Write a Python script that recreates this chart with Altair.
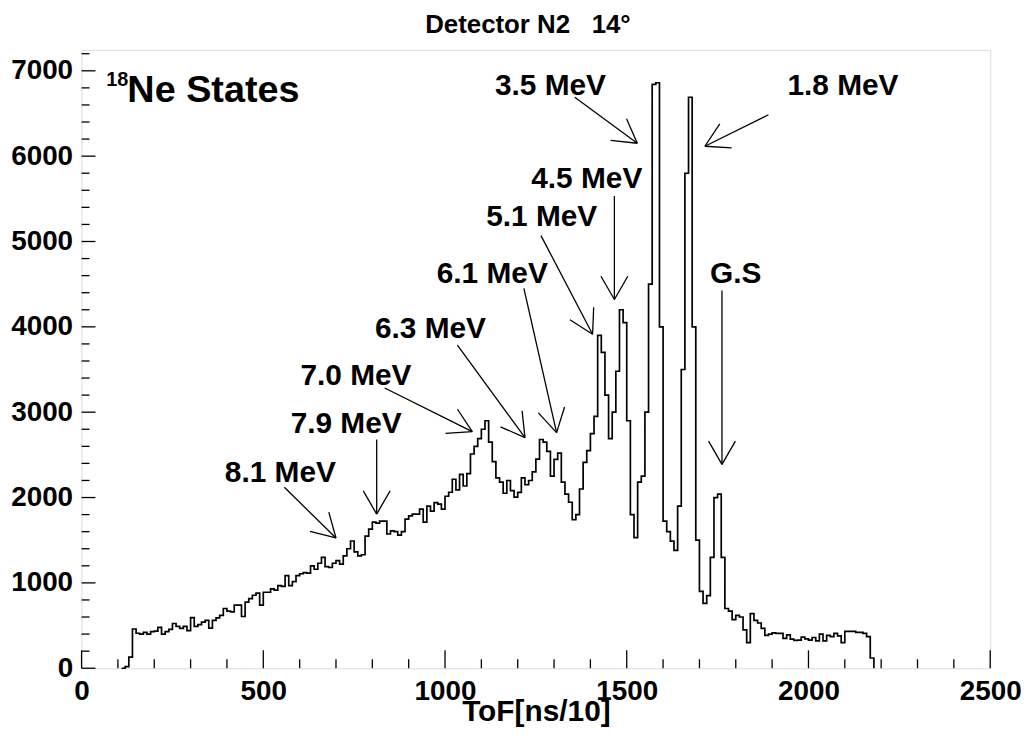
import math
import altair as alt
import pandas as pd

# ---------------- data ----------------
BIN_START = 110
BIN_WIDTH = 10
counts = [
    0, 20, 130, 460, 410, 400, 420, 400, 430,                 # 110-190
    435, 478, 400, 430, 455, 524, 490, 466, 490, 440,         # 200-290
    594, 490, 510, 540, 560, 470, 560, 590, 620, 700,         # 300-390
    670, 660, 740, 740, 606, 775, 816, 855, 880, 740,         # 400-490
    890, 890, 930, 915, 967, 960, 1084, 967, 1014, 1084,      # 500-590
    1107, 1120, 1115, 1200, 1160, 1230, 1300, 1190, 1180, 1230,  # 600-690
    1260, 1220, 1316, 1400, 1491, 1363, 1316, 1330, 1549, 1631,  # 700-790
    1712, 1700, 1724, 1724, 1573, 1610, 1600, 1560, 1600, 1747,  # 800-890
    1785, 1806, 1806, 1864, 1712, 1899, 1840, 1940, 1922, 1864,  # 900-990
    2015, 2062, 2214, 2090, 2272, 2135, 2280, 2510, 2600, 2690,  # 1000-1090
    2800, 2900, 2650, 2420, 2230, 2180, 2050, 2200, 2080, 2004,  # 1100-1190
    2060, 2230, 2150, 2200, 2300, 2450, 2680, 2650, 2540, 2250,  # 1200-1290
    2447, 2520, 2180, 2040, 1945, 1740, 1800, 2100, 2412, 2550,  # 1300-1390
    2750, 2950, 3900, 3700, 3200, 2690, 3000, 3480, 4200, 4050,  # 1400-1490
    2900, 1800, 1530, 2180, 2250, 3000, 4500, 6840, 6860, 4000,  # 1500-1590
    1724, 1600, 1490, 1380, 1900, 3500, 5800, 6690, 4000, 1500,  # 1600-1690
    900, 760, 850, 1300, 2000, 2040, 1300, 700, 670, 570,        # 1700-1790
    620, 600, 450, 300, 640, 560, 530, 466, 384, 400,            # 1800-1890
    415, 408, 408, 350, 390, 340, 326, 330, 365, 345,            # 1900-1990
    330, 360, 320, 400, 320, 385, 370, 408, 380, 300,            # 2000-2090
    431, 431, 431, 420, 420, 408, 370, 120,                      # 2100-2170
]
HIST_END = BIN_START + BIN_WIDTH * len(counts)

x_major = [0, 500, 1000, 1500, 2000, 2500]
x_minor = [v for v in range(100, 2500, 100) if v % 500 != 0]
y_major = [0, 1000, 2000, 3000, 4000, 5000, 6000, 7000]
y_minor = [v for v in range(200, 7400, 200) if v % 1000 != 0]

ann_text = ["3.5 MeV", "1.8 MeV", "4.5 MeV", "5.1 MeV", "6.1 MeV",
            "6.3 MeV", "7.0 MeV", "7.9 MeV", "8.1 MeV", "G.S"]
ann_text_x = [1290, 2095, 1390, 1266, 1130, 960, 755, 728, 547, 1800]
ann_text_y = [6721, 6721, 5626, 5183, 4508, 3867, 3320, 2761, 2178, 4508]
# arrows: start -> tip (data units)
arr_x0 = [1357, 1890, 1466, 1264, 1217, 1034, 834, 812, 558, 1762]
arr_y0 = [6690, 6485, 5533, 5069, 4450, 3785, 3284, 2679, 2120, 4426]
arr_x1 = [1529, 1715, 1466, 1406, 1307, 1220, 1075, 812, 700, 1762]
arr_y1 = [6151, 6116, 4321, 3914, 2761, 2702, 2772, 1806, 1526, 2388]

title_text = "Detector N2\u00a0\u00a0\u00a014\u00b0"

# ---------------- geometry ----------------
W, H = 914, 622
XMAX, YMAX = 2500, 7245
FONT = "Liberation Sans"

xs = alt.Scale(domain=[0, XMAX], nice=False, zero=False)
ys = alt.Scale(domain=[0, YMAX], nice=False, zero=False)

x_axis = alt.Axis(
    values=x_major, format="d", title="ToF[ns/10]", ticks=False, domain=False,
    grid=False, labelFont=FONT, labelFontWeight="bold", labelFontSize=28,
    labelColor="black", labelPadding=9, labelFlush=False, labelOverlap=False,
    titleFont=FONT, titleFontWeight="bold", titleFontSize=30, titleColor="black",
    titleY=53, titleBaseline="alphabetic")
y_axis = alt.Axis(
    values=y_major, format="d", title=None, ticks=False, domain=False, grid=False,
    labelFont=FONT, labelFontWeight="bold", labelFontSize=28, labelColor="black",
    labelPadding=9, labelFlush=False, labelOverlap=False)

edges = [BIN_START + i * BIN_WIDTH for i in range(len(counts))]
hist_df = pd.DataFrame({"tof": edges + [HIST_END], "counts": counts + [0]})

hist = alt.Chart(hist_df).mark_line(
    interpolate="step-after", color="black", strokeWidth=1.7
).encode(
    x=alt.X("tof:Q", scale=xs, axis=x_axis),
    y=alt.Y("counts:Q", scale=ys, axis=y_axis),
)

def tick_layer(vals, axis, length):
    df = pd.DataFrame({"t": vals})
    base = alt.Chart(df).mark_rule(color="black", strokeWidth=1.3)
    if axis == "x":
        return base.encode(x=alt.X("t:Q", scale=xs, axis=x_axis),
                           y=alt.value(H), y2=alt.value(H - length))
    return base.encode(y=alt.Y("t:Q", scale=ys, axis=y_axis),
                       x=alt.value(0), x2=alt.value(length))

ticks = [tick_layer(x_major, "x", 18), tick_layer(x_minor, "x", 9),
         tick_layer(y_major, "y", 14), tick_layer(y_minor, "y", 8)]

# arrows (shaft + open head), heads computed in pixel space
segs = []
HEAD_LEN, HEAD_ANG = 27.0, math.radians(30)
for a, b, c, d in zip(arr_x0, arr_y0, arr_x1, arr_y1):
    segs.append({"x": a, "y": b, "x2": c, "y2": d})
    px0, py0 = a * W / XMAX, b * H / YMAX
    px1, py1 = c * W / XMAX, d * H / YMAX
    ang = math.atan2(py0 - py1, px0 - px1)
    for s in (-1, 1):
        hx = px1 + HEAD_LEN * math.cos(ang + s * HEAD_ANG)
        hy = py1 + HEAD_LEN * math.sin(ang + s * HEAD_ANG)
        segs.append({"x": hx * XMAX / W, "y": hy * YMAX / H, "x2": c, "y2": d})
seg_df = pd.DataFrame(segs)

arrows = alt.Chart(seg_df).mark_rule(color="black", strokeWidth=1.3).encode(
    x=alt.X("x:Q", scale=xs, axis=x_axis), y=alt.Y("y:Q", scale=ys, axis=y_axis),
    x2="x2:Q", y2="y2:Q")

def text_layer(xv, yv, tv, size, align):
    df = pd.DataFrame({"x": xv, "y": yv, "t": tv})
    return alt.Chart(df).mark_text(
        font=FONT, fontWeight="bold", fontSize=size, align=align,
        baseline="alphabetic", color="black"
    ).encode(x=alt.X("x:Q", scale=xs, axis=x_axis),
             y=alt.Y("y:Q", scale=ys, axis=y_axis), text="t:N")

labels = text_layer(ann_text_x, ann_text_y, ann_text, 30, "center")
ne = text_layer([126], [6639], ["Ne States"], 38, "left")
sup = text_layer([98], [6826], ["18"], 20, "center")

chart = alt.layer(hist, *ticks, arrows, labels, ne, sup).properties(
    width=W, height=H,
    title=alt.TitleParams(title_text, font=FONT, fontSize=26, fontWeight="bold",
                          color="black", anchor="middle", offset=12, dx=-8),
    autosize=alt.AutoSizeParams(type="none"),
    padding={"left": 74, "top": 40, "right": 33, "bottom": 62},
).configure_view(stroke="black", strokeWidth=2).configure(background="white")

chart.save("out.html", embed_options={"renderer": "svg", "actions": False})
